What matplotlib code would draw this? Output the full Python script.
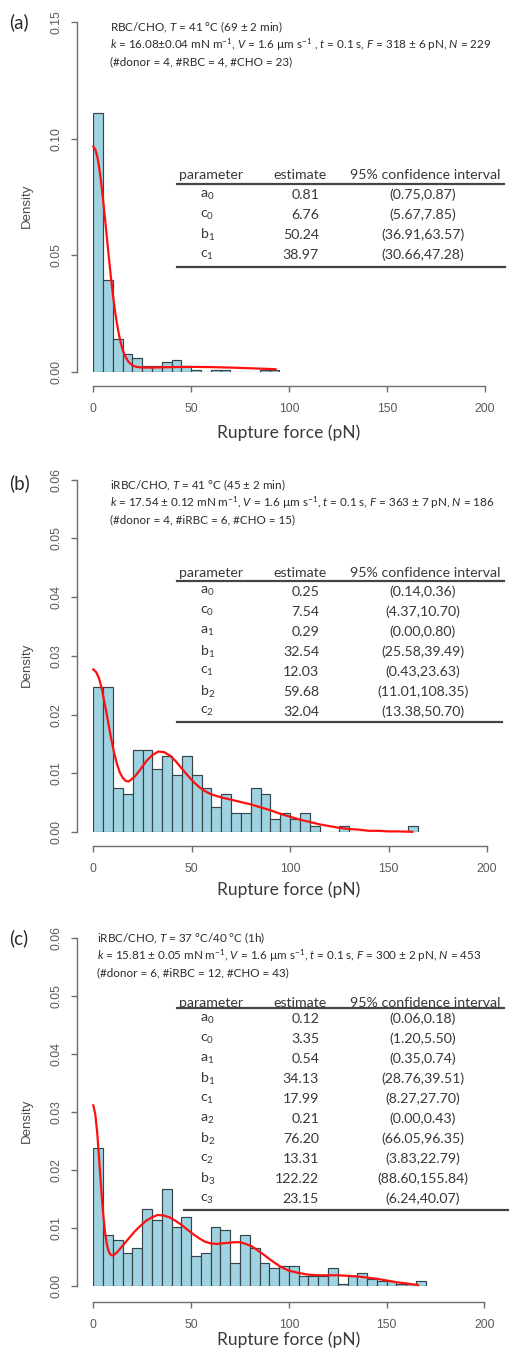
import numpy as np
import matplotlib
matplotlib.use('Agg')
import matplotlib.pyplot as plt

plt.rcParams['mathtext.fontset'] = 'custom'
plt.rcParams['mathtext.rm'] = 'Lato'
plt.rcParams['mathtext.it'] = 'Lato:italic'
plt.rcParams['mathtext.bf'] = 'Lato:bold'

# ---- data ----
BIN_W = 5

# (a) RBC/CHO, 41 C
counts_a = [127, 45, 16, 9, 7, 3, 3, 5, 6, 3, 1, 0, 1, 1, 0, 0, 0, 1, 1]
n_a = 229
fit_x_a = [0, 1, 2, 3, 4, 5, 6, 7, 8, 9, 10, 11, 12, 13, 14, 15, 16, 18, 20,
           22, 25, 30, 40, 50, 60, 70, 80, 90, 93]
fit_y_a = [0.0966, 0.0955, 0.0925, 0.0877, 0.0813, 0.0738, 0.0656, 0.0571,
           0.0487, 0.0406, 0.0332, 0.0267, 0.0211, 0.0164, 0.0125, 0.0095,
           0.0072, 0.0043, 0.0028, 0.0022, 0.0019, 0.0019, 0.0021, 0.0022,
           0.0021, 0.0019, 0.0016, 0.0013, 0.0012]

# (b) iRBC/CHO, 41 C
counts_b = [23, 23, 7, 6, 13, 13, 10, 12, 9, 12, 9, 7, 4, 6, 3, 3, 7, 6, 2, 3,
            2, 3, 1, 0, 0, 1, 0, 0, 0, 0, 0, 0, 1]
n_b = 186
fit_x_b = [0, 1.5, 3, 4.5, 6, 7.5, 9, 10.5, 12, 13.5, 15, 16.5, 18, 21, 24, 27,
           30, 33, 36, 39, 42, 45, 48, 51, 54, 57, 60, 65, 70, 75, 80, 85, 90,
           95, 100, 105, 110, 115, 120, 125, 130, 135, 140, 145, 150, 155, 162]
fit_y_b = [0.0277, 0.0272, 0.0261, 0.0241, 0.0215, 0.0188, 0.0160, 0.0136,
           0.0116, 0.0101, 0.0092, 0.0087, 0.0086, 0.0094, 0.0107, 0.0121,
           0.0131, 0.0137, 0.0136, 0.0130, 0.0120, 0.0108, 0.0096, 0.0085,
           0.0076, 0.0069, 0.0064, 0.0059, 0.0055, 0.0051, 0.0047, 0.0042,
           0.0037, 0.0031, 0.0026, 0.0021, 0.0017, 0.0013, 0.0010, 0.0007,
           0.0005, 0.0004, 0.0002, 0.0002, 0.0001, 0.0001, 0.00003]

# (c) iRBC/CHO, 37/40 C
counts_c = [54, 20, 18, 13, 15, 30, 26, 38, 23, 27, 12, 13, 23, 22, 9, 20, 15,
            9, 7, 8, 8, 4, 4, 4, 7, 1, 4, 5, 3, 2, 2, 1, 1, 2]
n_c = 453
fit_x_c = [0, 1, 2, 3, 4, 5, 6, 7, 8, 9, 10, 12, 15, 18, 21, 24, 27, 30, 33,
           36, 39, 42, 45, 48, 51, 54, 57, 60, 63, 66, 69, 72, 75, 78, 81, 84,
           87, 90, 93, 96, 100, 105, 110, 115, 120, 125, 130, 135, 140, 145,
           150, 155, 160, 166]
fit_y_c = [0.0312, 0.0297, 0.0265, 0.0219, 0.0170, 0.0127, 0.0093, 0.0071,
           0.0059, 0.0054, 0.0053, 0.0058, 0.0070, 0.0082, 0.0094, 0.0104,
           0.0113, 0.0119, 0.0123, 0.0122, 0.0119, 0.0113, 0.0106, 0.0098,
           0.0090, 0.0083, 0.0077, 0.0074, 0.0073, 0.0074, 0.0075, 0.0076,
           0.0076, 0.0073, 0.0069, 0.0062, 0.0055, 0.0047, 0.0040, 0.0033,
           0.0027, 0.0023, 0.0020, 0.0019, 0.0019, 0.0019, 0.0018, 0.0017,
           0.0015, 0.0013, 0.0010, 0.0007, 0.0005, 0.0002]

headers_a = ["RBC/CHO, $T$ = 41 °C (69 ± 2 min)",
             "$k$ = 16.08±0.04 mN m$^{-1}$, $V$ = 1.6 µm s$^{-1}$ , $t$ = 0.1 s, "
             "$F$ = 318 ± 6 pN, $N$ = 229",
             "(#donor = 4, #RBC = 4, #CHO = 23)"]
headers_b = ["iRBC/CHO, $T$ = 41 °C (45 ± 2 min)",
             "$k$ = 17.54 ± 0.12 mN m$^{-1}$, $V$ = 1.6 µm s$^{-1}$, $t$ = 0.1 s, "
             "$F$ = 363 ± 7 pN, $N$ = 186",
             "(#donor = 4, #iRBC = 6, #CHO = 15)"]
headers_c = ["iRBC/CHO, $T$ = 37 °C/40 °C (1h)",
             "$k$ = 15.81 ± 0.05 mN m$^{-1}$, $V$ = 1.6 µm s$^{-1}$, $t$ = 0.1 s, "
             "$F$ = 300 ± 2 pN, $N$ = 453",
             "(#donor = 6, #iRBC = 12, #CHO = 43)"]

params_a = ["a$_0$", "c$_0$", "b$_1$", "c$_1$"]
est_a = ["0.81", "6.76", "50.24", "38.97"]
ci_a = ["(0.75,0.87)", "(5.67,7.85)", "(36.91,63.57)", "(30.66,47.28)"]

params_b = ["a$_0$", "c$_0$", "a$_1$", "b$_1$", "c$_1$", "b$_2$", "c$_2$"]
est_b = ["0.25", "7.54", "0.29", "32.54", "12.03", "59.68", "32.04"]
ci_b = ["(0.14,0.36)", "(4.37,10.70)", "(0.00,0.80)", "(25.58,39.49)",
        "(0.43,23.63)", "(11.01,108.35)", "(13.38,50.70)"]

params_c = ["a$_0$", "c$_0$", "a$_1$", "b$_1$", "c$_1$", "a$_2$", "b$_2$",
            "c$_2$", "b$_3$", "c$_3$"]
est_c = ["0.12", "3.35", "0.54", "34.13", "17.99", "0.21", "76.20", "13.31",
         "122.22", "23.15"]
ci_c = ["(0.06,0.18)", "(1.20,5.50)", "(0.35,0.74)", "(28.76,39.51)",
        "(8.27,27.70)", "(0.00,0.43)", "(66.05,96.35)", "(3.83,22.79)",
        "(88.60,155.84)", "(6.24,40.07)"]

# ---- layout ----
W, H = 521, 1355
PT = 72 / 100.0  # px -> points
fig = plt.figure(figsize=(W / 100, H / 100), dpi=100)

AXIS_COL = '#6e6e6e'
TEXT_COL = '#2a2a2a'
TABLE_COL = '#383838'


def panel(x0, x1, ytop, ybase, counts, n, fx, fy, ymax, yticks, dy):
    ax = fig.add_axes([x0 / W, 1 - ybase / H, (x1 - x0) / W, (ybase - ytop) / H])
    starts = np.arange(len(counts)) * BIN_W
    dens = np.array(counts) / (n * BIN_W)
    ax.bar(starts, dens, width=BIN_W, align='edge', color='#9fd3e1',
           edgecolor='#36444a', linewidth=0.85)
    ax.plot(fx, fy, color='#ff1010', lw=1.6, clip_on=False, zorder=5)
    ax.set_xlim(0, 200)
    ax.set_ylim(0, ymax)
    ax.patch.set_visible(False)
    for s in ['top', 'right']:
        ax.spines[s].set_visible(False)
    ax.spines['left'].set_position(('outward', 16 * PT))
    ax.spines['bottom'].set_position(('outward', dy * PT))
    ax.spines['left'].set_bounds(0, ymax)
    ax.spines['bottom'].set_bounds(0, 200)
    for s in ['left', 'bottom']:
        ax.spines[s].set_color(AXIS_COL)
        ax.spines[s].set_linewidth(1.0)
    ax.set_xticks([0, 50, 100, 150, 200])
    ax.set_yticks(yticks)
    ax.set_yticklabels(['%.2f' % v for v in yticks])
    ax.tick_params(colors=AXIS_COL, labelcolor='#5a5a5a', length=6 * PT,
                   width=1.0, labelsize=8.8)
    ax.tick_params(axis='x', pad=8)
    ax.tick_params(axis='y', pad=6, labelrotation=90)
    for lab in ax.get_yticklabels():
        lab.set_va('center')
        lab.set_family('Liberation Sans')
    for lab in ax.get_xticklabels():
        lab.set_family('Liberation Sans')
    return ax


ax_a = panel(93.3, 485, 22, 372, counts_a, n_a, fit_x_a, fit_y_a, 0.15,
             [0, 0.05, 0.10, 0.15], 14)
ax_b = panel(93.3, 487, 479.7, 832, counts_b, n_b, fit_x_b, fit_y_b, 0.06,
             [0, 0.01, 0.02, 0.03, 0.04, 0.05, 0.06], 14)
ax_c = panel(93.3, 484.5, 938.3, 1286.3, counts_c, n_c, fit_x_c, fit_y_c, 0.06,
             [0, 0.01, 0.02, 0.03, 0.04, 0.05, 0.06], 16)

# overlay in pixel coordinates for text and table rules
ov = fig.add_axes([0, 0, 1, 1], zorder=10)
ov.set_xlim(0, W)
ov.set_ylim(H, 0)
ov.axis('off')


def annotate(label, lab_y, head_x, head_y, headers, dens_y, xlab_y):
    ov.text(19, lab_y, label, fontsize=13.5, family='Lato', color=TEXT_COL,
            ha='center', va='center')
    for i, line in enumerate(headers):
        ov.text(head_x, head_y + i * 17.5, line, fontsize=8.4, family='Lato',
                color=TEXT_COL, ha='left', va='center')
    ov.text(27, dens_y, 'Density', fontsize=9.5, family='Liberation Sans',
            color='#4a4a4a', rotation=90, ha='center', va='center')
    ov.text(289, xlab_y, 'Rupture force (pN)', fontsize=12.5, family='Lato',
            color='#3a3a3a', ha='center', va='center')


def table(head_y, rule1, row0, rule2, rule2_x, params, est, ci):
    fs = 10.2
    ov.text(179, head_y, 'parameter', fontsize=fs, family='Lato',
            color=TABLE_COL, ha='left', va='center')
    ov.text(300, head_y, 'estimate', fontsize=fs, family='Lato',
            color=TABLE_COL, ha='center', va='center')
    ov.text(425, head_y, '95% confidence interval', fontsize=fs, family='Lato',
            color=TABLE_COL, ha='center', va='center')
    ov.plot([177, 504], [rule1, rule1], color='#444444', lw=1.6)
    for i, (p, e, c) in enumerate(zip(params, est, ci)):
        y = row0 + i * 20
        ov.text(200, y, p, fontsize=fs, family='Lato', color=TABLE_COL,
                ha='left', va='center')
        ov.text(319, y, e, fontsize=fs, family='Lato', color=TABLE_COL,
                ha='right', va='center')
        ov.text(423, y, c, fontsize=fs, family='Lato', color=TABLE_COL,
                ha='center', va='center')
    ov.plot(rule2_x, [rule2, rule2], color='#444444', lw=1.6)


annotate('(a)', 22, 110, 27, headers_a, 206, 433)
annotate('(b)', 483, 110, 485, headers_b, 665, 890)
annotate('(c)', 938, 97, 938, headers_c, 1121, 1340)

table(175, 184.3, 195, 266.7, [177, 505], params_a, est_a, ci_a)
table(572.7, 580.7, 591.7, 722, [177, 502], params_b, est_b, ci_b)
table(1003.3, 1008.3, 1019, 1210, [184, 508], params_c, est_c, ci_c)

fig.savefig('out.png', dpi=100)
